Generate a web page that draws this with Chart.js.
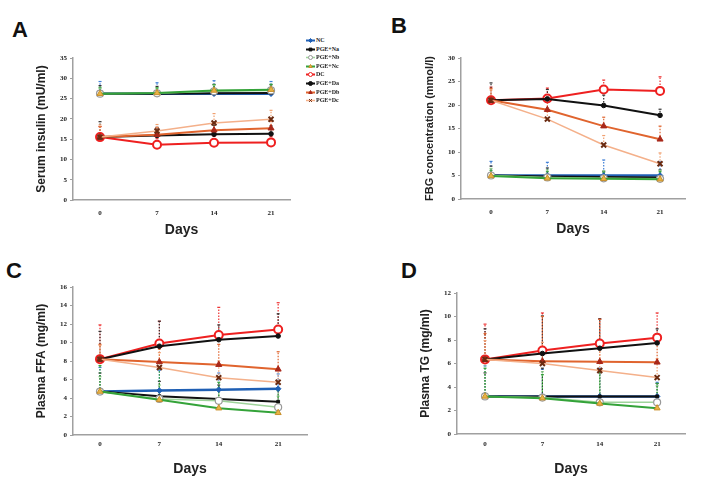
<!DOCTYPE html>
<html>
<head>
<meta charset="utf-8">
<script src="https://cdn.jsdelivr.net/npm/chart.js@4.4.0/dist/chart.umd.min.js"></script>
<style>
  html, body { margin: 0; padding: 0; background: #fff; }
  body { width: 708px; height: 494px; position: relative; overflow: hidden; font-family: "Liberation Sans", Arial, sans-serif; }
  canvas { position: absolute; }
  .letra { position: absolute; font-size: 22px; font-weight: bold; line-height: 1; color: #111; }
  #legenda { position: absolute; left: 306px; top: 36px; }
  .item { position: absolute; left: 0; height: 9px; white-space: nowrap; }
  .item canvas { position: absolute; left: 0; top: 0; }
  .item span { position: absolute; left: 10px; top: 0; font-family: "Liberation Serif", serif; font-weight: bold; font-size: 6px; line-height: 9px; color: #222; }
</style>
</head>
<body>
<div class="letra" style="left:12px;top:19px">A</div>
<div class="letra" style="left:391px;top:15px">B</div>
<div class="letra" style="left:6px;top:260px">C</div>
<div class="letra" style="left:401px;top:260px">D</div>
<div id="legenda"></div>

<script>
// ===============================
// DADOS
// ===============================
const dias = [0, 7, 14, 21];
const grupos = ["NC", "PGE+Na", "PGE+Nb", "PGE+Nc", "DC", "PGE+Da", "PGE+Db", "PGE+Dc"];

// A - Serum insulin (mU/ml)
const insulina = [
  [26.2, 26.2, 26.2, 26.2],
  [26.2, 26.2, 26.3, 26.4],
  [26.2, 26.3, 26.8, 27.0],
  [26.2, 26.4, 27.0, 27.2],
  [15.5, 13.6, 14.1, 14.2],
  [15.5, 15.9, 16.2, 16.3],
  [15.5, 16.1, 17.2, 17.7],
  [15.5, 17.0, 19.0, 19.9]
];
const insulinaErro = [
  [3.0, 2.7, 3.2, 3.0],
  [2.0, 1.8, 2.2, 2.0],
  [1.6, 1.4, 1.6, 1.5],
  [1.4, 1.2, 1.4, 1.3],
  [2.6, 1.5, 1.6, 1.4],
  [3.8, 2.0, 2.2, 2.0],
  [2.6, 1.8, 1.8, 1.8],
  [3.0, 1.6, 2.3, 2.2]
];

// B - FBG concentration (mmol/l)
const glicemia = [
  [5.0, 5.0, 5.0, 5.0],
  [5.0, 4.8, 4.7, 4.6],
  [5.0, 4.6, 4.4, 4.3],
  [4.9, 4.4, 4.3, 4.2],
  [21.0, 21.4, 23.3, 23.0],
  [21.0, 21.3, 19.9, 17.8],
  [21.0, 19.0, 15.5, 12.7],
  [21.0, 17.0, 11.5, 7.5]
];
const glicemiaErro = [
  [3.0, 2.8, 3.3, 2.9],
  [2.0, 1.8, 1.2, 1.6],
  [1.5, 1.6, 1.6, 1.8],
  [1.2, 1.4, 1.4, 1.6],
  [2.8, 2.2, 2.0, 3.0],
  [3.7, 2.0, 2.2, 1.3],
  [2.5, 1.8, 1.9, 2.8],
  [2.2, 1.6, 2.0, 2.3]
];

// C - Plasma FFA (mg/ml)
const ffa = [
  [4.7, 4.8, 4.9, 5.0],
  [4.7, 4.2, 3.9, 3.6],
  [4.7, 3.9, 3.7, 3.0],
  [4.7, 3.8, 2.9, 2.4],
  [8.2, 9.9, 10.8, 11.4],
  [8.2, 9.6, 10.3, 10.7],
  [8.2, 7.9, 7.6, 7.1],
  [8.2, 7.3, 6.2, 5.7]
];
const ffaErro = [
  [2.6, 2.2, 1.8, 1.6],
  [2.0, 1.6, 1.5, 1.4],
  [1.6, 1.5, 1.4, 1.2],
  [2.8, 3.4, 2.8, 2.4],
  [3.7, 2.4, 3.0, 2.9],
  [3.0, 2.7, 1.6, 2.4],
  [1.6, 1.4, 2.2, 1.9],
  [1.5, 1.6, 1.8, 1.5]
];

// D - Plasma TG (mg/ml)
const tg = [
  [3.2, 3.2, 3.2, 3.2],
  [3.2, 3.2, 3.2, 3.2],
  [3.2, 3.1, 2.7, 2.7],
  [3.2, 3.05, 2.6, 2.2],
  [6.35, 7.1, 7.7, 8.2],
  [6.35, 6.85, 7.3, 7.75],
  [6.35, 6.2, 6.15, 6.1],
  [6.35, 6.0, 5.4, 4.8]
];
const tgErro = [
  [2.6, 2.3, 2.4, 1.2],
  [2.0, 2.4, 2.0, 1.1],
  [2.8, 2.2, 2.6, 1.4],
  [2.4, 2.0, 2.8, 2.1],
  [3.0, 3.2, 2.1, 2.1],
  [2.6, 3.2, 2.5, 1.2],
  [2.2, 3.8, 3.6, 2.2],
  [1.6, 1.8, 1.8, 1.6]
];

// ===============================
// ESTILOS DAS SÉRIES
// ===============================
const estilos = [
  { cor: "#1f5fb4", ponto: "rectRot",  fundo: "#1f5fb4", borda: "#1f5fb4", raio: 2.8, bw: 1,   lw: 2.5, erro: "#3f7fd6" },
  { cor: "#111111", ponto: "rect",     fundo: "#111111", borda: "#111111", raio: 2,   bw: 1,   lw: 2,   erro: "#333333" },
  { cor: "#9fd49b", ponto: "circle",   fundo: "#ffffff", borda: "#999999", raio: 3.5, bw: 1.2, lw: 1.5, erro: "#8cc888" },
  { cor: "#34a339", ponto: "triangle", fundo: "#e9b345", borda: "#c8902a", raio: 3.5, bw: 1,   lw: 2,   erro: "#34a339" },
  { cor: "#ee2020", ponto: "circle",   fundo: "#ffffff", borda: "#ee2020", raio: 4,   bw: 2,   lw: 2,   erro: "#ee3030" },
  { cor: "#111111", ponto: "circle",   fundo: "#111111", borda: "#111111", raio: 2.3, bw: 1,   lw: 2,   erro: "#333333" },
  { cor: "#e0642e", ponto: "triangle", fundo: "#a8281a", borda: "#a8281a", raio: 3.5, bw: 1,   lw: 2,   erro: "#e0642e" },
  { cor: "#f4b08a", ponto: "crossRot", fundo: "#6a2a10", borda: "#6a2a10", raio: 3.5, bw: 2,   lw: 1.5, erro: "#f0a070" }
];

const fonteTick = { family: "Liberation Serif", size: 7, weight: "bold" };
const fonteDias = { family: "Liberation Sans", size: 14, weight: "bold" };

// ===============================
// BARRAS DE ERRO (só para cima)
// ===============================
const barrasErro = {
  id: "barrasErro",
  beforeDatasetsDraw(chart) {
    const ctx = chart.ctx;
    const yScale = chart.scales.y;
    chart.data.datasets.forEach((ds, i) => {
      const meta = chart.getDatasetMeta(i);
      ctx.save();
      ctx.strokeStyle = ds.corErro;
      ctx.lineWidth = 1.2;
      meta.data.forEach((pt, j) => {
        const topo = yScale.getPixelForValue(ds.data[j].y + ds.erro[j]);
        ctx.setLineDash([1.5, 1.5]);
        ctx.beginPath();
        ctx.moveTo(pt.x, pt.y);
        ctx.lineTo(pt.x, topo);
        ctx.stroke();
        ctx.setLineDash([]);
        ctx.beginPath();
        ctx.moveTo(pt.x - 1.5, topo);
        ctx.lineTo(pt.x + 1.5, topo);
        ctx.stroke();
      });
      ctx.restore();
    });
  }
};

// ===============================
// PAINÉIS
// ===============================
const paineis = [
  { area: [73, 58, 290, 200],  xMin: -3.32, xMax: 23.33, yMax: 35, passo: 5, titulo: "Serum insulin (mU/ml)", tamTitulo: 12,
    valores: insulina, erros: insulinaErro, padTick: 9, padDias: 6.6 },
  { area: [461, 58, 685, 199], xMin: -3.73, xMax: 24.1,  yMax: 30, passo: 5, titulo: "FBG concentration (mmol/l)", tamTitulo: 11,
    valores: glicemia, erros: glicemiaErro, padTick: 9, padDias: 6.6 },
  { area: [73, 287, 307, 435], xMin: -3.18, xMax: 24.4,  yMax: 16, passo: 2, titulo: "Plasma FFA (mg/ml)", tamTitulo: 12,
    valores: ffa, erros: ffaErro, padTick: 5, padDias: 2.6 },
  { area: [457, 293, 685, 434], xMin: -3.42, xMax: 24.4, yMax: 12, passo: 2, titulo: "Plasma TG (mg/ml)", tamTitulo: 12,
    valores: tg, erros: tgErro, padTick: 6, padDias: 1.6 }
];

function criarPainel(p) {
  const [L, T, R, B] = p.area;
  const larguraY = 44, topo = 15, direita = 6, alturaX = 45;
  const canvas = document.createElement("canvas");
  canvas.width = R - L + larguraY + direita;
  canvas.height = B - T + topo + alturaX;
  canvas.style.left = (L - larguraY) + "px";
  canvas.style.top = (T - topo) + "px";
  document.body.appendChild(canvas);

  const datasets = grupos.map((nome, i) => {
    const e = estilos[i];
    return {
      label: nome,
      data: dias.map((d, j) => ({ x: d, y: p.valores[i][j] })),
      erro: p.erros[i],
      corErro: e.erro,
      borderColor: e.cor,
      borderWidth: e.lw,
      backgroundColor: e.fundo,
      pointStyle: e.ponto,
      pointRadius: e.raio,
      pointBackgroundColor: e.fundo,
      pointBorderColor: e.borda,
      pointBorderWidth: e.bw,
      tension: 0,
      order: grupos.length - i
    };
  });

  const meioTitulo = p.tamTitulo * 1.2 / 2;

  new Chart(canvas, {
    type: "line",
    data: { datasets },
    plugins: [barrasErro],
    options: {
      responsive: false,
      animation: false,
      layout: { padding: { top: topo, right: direita, left: 0, bottom: 0 } },
      plugins: { legend: { display: false }, tooltip: { enabled: false } },
      scales: {
        x: {
          type: "linear",
          min: p.xMin,
          max: p.xMax,
          afterBuildTicks: s => { s.ticks = dias.map(v => ({ value: v })); },
          afterFit: s => { s.height = alturaX; },
          grid: { display: false, drawTicks: false },
          border: { display: true, color: "#a0a0a0", width: 1.5 },
          ticks: { padding: p.padTick, font: fonteTick, color: "#222", maxRotation: 0, autoSkip: false },
          title: { display: true, text: "Days", font: fonteDias, color: "#222", padding: { top: 0, bottom: p.padDias } }
        },
        y: {
          min: 0,
          max: p.yMax,
          afterFit: s => { s.width = larguraY; },
          grid: { display: true, drawOnChartArea: false, drawTicks: true, tickLength: 3, color: "#a0a0a0" },
          border: { display: true, color: "#a0a0a0", width: 1.5 },
          ticks: { stepSize: p.passo, padding: 3, font: fonteTick, color: "#222" },
          title: {
            display: true, text: p.titulo, color: "#222",
            font: { family: "Liberation Sans", size: p.tamTitulo, weight: "bold" },
            padding: { top: 13 - meioTitulo, bottom: 0 }
          }
        }
      }
    }
  });
}

paineis.forEach(criarPainel);

// ===============================
// LEGENDA
// ===============================
function criarLegenda() {
  const caixa = document.getElementById("legenda");
  grupos.forEach((nome, i) => {
    const e = estilos[i];
    const item = document.createElement("div");
    item.className = "item";
    item.style.top = (i * 8.6) + "px";
    const c = document.createElement("canvas");
    c.width = 9; c.height = 9;
    const ctx = c.getContext("2d");
    ctx.strokeStyle = e.cor;
    ctx.lineWidth = Math.min(e.lw, 2);
    ctx.beginPath(); ctx.moveTo(0, 4.5); ctx.lineTo(9, 4.5); ctx.stroke();
    ctx.fillStyle = e.fundo;
    ctx.strokeStyle = e.borda;
    ctx.lineWidth = 1;
    Chart.helpers.drawPoint(ctx, { pointStyle: e.ponto, radius: 2, rotation: 0, borderWidth: 1 }, 4.5, 4.5);
    const txt = document.createElement("span");
    txt.textContent = nome;
    item.appendChild(c);
    item.appendChild(txt);
    caixa.appendChild(item);
  });
}

criarLegenda();
</script>
</body>
</html>
